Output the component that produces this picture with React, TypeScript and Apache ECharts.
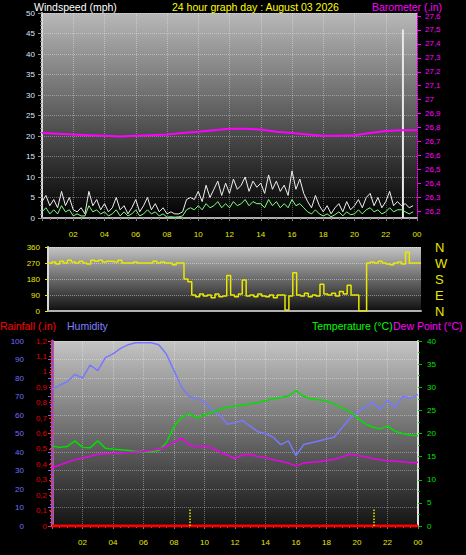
import React, { useEffect, useRef } from 'react';
import * as echarts from 'echarts';

// ---- data (hours 0..24) ----
const windGust = [
  4, 5.5, 3, 4.5, 2.5, 6.5, 3, 5, 2, 1.5, 2.5, 1, 6.5, 3, 4.5, 2,
  3.5, 1.5, 2.5, 5, 2, 3, 1, 2.5, 4.5, 1.5, 3, 5, 2, 3.5, 1.5, 2.5,
  1, 1.5, 1, 1, 1.5, 4.5, 5, 4.5, 6.5, 4, 8, 5, 7, 9, 5.5, 8.5,
  6, 9.5, 7, 8, 10, 6.5, 9, 7.5, 8.5, 6, 10.5, 7, 9, 6.5, 8, 5.5,
  11.5, 7, 9.5, 6, 4, 2.5, 5.5, 3, 1.5, 3, 1, 2.5, 3.5, 1.5, 4, 2,
  3, 4.5, 2.5, 5, 6, 3, 5, 2.5, 4, 6.5, 3, 4, 3, 3.5, 2.5, 3,
];
const windAvg = [
  1.5, 2.5, 1, 2, 1, 3, 1.5, 2, 0.5, 1, 0.5, 0.5, 3, 1.5, 2, 1,
  1.5, 0.5, 1, 2, 0.5, 1.5, 0.5, 1, 2, 0.5, 1, 2, 1, 1.5, 0.5, 1,
  0.2, 0.3, 0.2, 0.3, 0.5, 2, 2.5, 2, 3, 2, 3.5, 2.5, 3, 4, 2.5, 3.5,
  2.5, 4, 3, 3.5, 4.5, 3, 4, 3.5, 3.5, 2.5, 4.5, 3, 4, 2.5, 3.5, 2.5,
  4.5, 3, 3.5, 2.5, 1.5, 1, 2, 1, 0.5, 1, 0.3, 0.8, 1.5, 0.5, 1.5, 0.8,
  1, 2, 1, 2, 2.5, 1.5, 2, 1, 1.5, 2.5, 1.5, 2, 2, 1.5, 1, 1.5,
];
const gustSpikeHour = 23.1;
const gustSpikeMph = 46;
const barometer = [
  26.76, 26.755, 26.75, 26.745, 26.74, 26.735, 26.74, 26.745, 26.75, 26.76,
  26.77, 26.78, 26.79, 26.79, 26.785, 26.77, 26.76, 26.75, 26.74, 26.74,
  26.745, 26.76, 26.775, 26.78, 26.78,
];
const windDir = [
  270, 275, 265, 280, 270, 285, 275, 270, 280, 270, 265, 285, 280, 285, 275, 280,
  280, 275, 285, 270, 270, 270, 275, 270, 270, 270, 270, 280, 270, 275, 270, 270,
  260, 270, 270, 180, 165, 90, 80, 95, 85, 90, 75, 95, 80, 85, 200, 90,
  80, 95, 175, 85, 90, 80, 95, 85, 80, 90, 75, 90, 90, 5, 85, 215,
  90, 85, 100, 80, 90, 85, 150, 95, 90, 100, 85, 110, 95, 145, 90, 90,
  0, 0, 270, 275, 270, 280, 270, 265, 260, 270, 275, 265, 330, 270, 270, 270,
  270,
];
const humidity = [
  74, 76, 78, 82, 80, 87, 84, 91, 93, 96, 98, 99, 99, 99, 98, 93, 84,
  75, 70, 69, 67, 63, 60, 55, 56, 57, 54, 51, 50, 48, 44, 46, 38,
  44, 45, 46, 47, 48, 53, 58, 61, 64, 67, 63, 68, 64, 70, 69, 71,
];
const temperature = [
  17.3, 17.0, 17.2, 18.4, 17.0, 16.9, 18.4, 16.8, 16.6, 16.5, 16.3, 16.1, 16.1,
  16.0, 16.3, 18.0, 21.5, 23.5, 24.3, 23.4, 24.0, 24.6, 25.2, 25.7, 25.9,
  26.1, 26.4, 26.7, 27.1, 27.5, 27.8, 28.1, 29.3, 28.0, 27.5, 27.3, 27.0,
  26.4, 25.6, 24.8, 23.4, 22.2, 21.4, 21.0, 21.6, 20.5, 20.0, 19.6, 19.5,
];
const dewPoint = [
  12.6, 13.2, 13.8, 14.3, 14.7, 15.1, 15.5, 15.6, 15.7, 15.8, 15.9, 16.0, 16.1,
  16.3, 16.6, 17.2, 18.1, 19.0, 17.5, 17.2, 17.3, 16.8, 16.0, 15.3, 14.6,
  15.4, 15.5, 15.0, 14.8, 14.3, 14.0, 13.6, 13.0, 13.6, 13.8, 13.9, 14.2,
  14.4, 14.9, 15.5, 15.3, 15.0, 14.6, 14.3, 14.1, 14.0, 13.9, 13.7, 13.8,
];
const rainfall = [
  0, 0, 0, 0, 0, 0, 0, 0, 0, 0, 0, 0, 0, 0, 0, 0, 0, 0, 0, 0, 0, 0, 0, 0, 0,
];
const markerHours = [9.0, 21.1];
const baroTicks = [
  26.2, 26.3, 26.4, 26.5, 26.6, 26.7, 26.8, 26.9, 27.0, 27.1, 27.2, 27.3, 27.4, 27.5, 27.6,
];
const dirLabels: Record<number, string> = { 0: 'N', 90: 'E', 180: 'S', 270: 'W', 360: 'N' };

const FONT = '"Liberation Sans", Arial, sans-serif';
const hourFmt = (v: number) => (v === 0 ? '' : String(v % 24).padStart(2, '0'));
const comma = (v: number) => String(Number(v.toFixed(1))).replace('.', ',');

const grad = (top: string, bottom: string) => ({
  type: 'linear', x: 0, y: 0, x2: 0, y2: 1,
  colorStops: [{ offset: 0, color: top }, { offset: 1, color: bottom }],
});
const gridLine = { show: true, lineStyle: { color: 'rgba(255,255,255,0.35)', type: 'dotted', width: 1 } };

export default function App() {
  const ref = useRef<HTMLDivElement>(null);
  useEffect(() => {
    document.body.style.margin = '0';
    document.body.style.background = '#000';
    const chart = echarts.init(ref.current!, null, { renderer: 'svg' });
    const q = (arr: number[], step: number) => arr.map((v, i) => [i * step, v]);

    const xBase = (gridIndex: number, showLabels: boolean) => ({
      type: 'value', gridIndex, min: 0, max: 24, interval: 2,
      axisLine: { show: true, onZero: false, lineStyle: { color: '#b0b0b0', width: 2 } },
      axisTick: { show: showLabels, length: 3, lineStyle: { color: '#808080' } },
      minorTick: { show: showLabels, splitNumber: 4, length: 2, lineStyle: { color: '#707070' } },
      axisLabel: { show: showLabels, formatter: hourFmt, color: '#e8e800', fontSize: 8, fontFamily: FONT, margin: 12 },
      splitLine: showLabels ? gridLine : { show: false },
    });

    const titleStyle = (text: string, fill: string) => ({ text, fill, fontSize: 10.5, fontFamily: FONT });

    chart.setOption({
      animation: false,
      backgroundColor: '#000',
      grid: [
        { left: 42, top: 13, width: 375, height: 205, show: true, borderWidth: 0, backgroundColor: grad('#b8b8b8', '#000000') },
        { left: 48, top: 247, width: 373, height: 64, show: true, borderWidth: 0, backgroundColor: grad('#c4c4c4', '#101010') },
        { left: 52, top: 341, width: 366, height: 185, show: true, borderWidth: 0, backgroundColor: grad('#c4c4c4', '#141414') },
      ],
      xAxis: [xBase(0, true), { ...xBase(1, false), splitLine: { show: false } }, xBase(2, true)],
      yAxis: [
        {
          type: 'value', gridIndex: 0, min: 0, max: 50, interval: 5, position: 'left',
          axisLine: { show: true, lineStyle: { color: '#d8d8d8', width: 2 } },
          axisTick: { show: true, length: 4, lineStyle: { color: '#909090' } },
          minorTick: { show: true, splitNumber: 5, length: 2, lineStyle: { color: '#808080' } },
          axisLabel: { color: '#dce6ff', fontSize: 8, fontFamily: FONT, margin: 7 },
          splitLine: gridLine,
        },
        {
          type: 'value', gridIndex: 0, min: 26.15, max: 27.622, position: 'right',
          axisLine: { show: true, lineStyle: { color: '#ff00ff', width: 1, type: 'dotted' } },
          axisTick: { show: true, length: 4, customValues: baroTicks, lineStyle: { color: '#ff00ff' } },
          axisLabel: { color: '#ff00ff', fontSize: 8, fontFamily: FONT, margin: 8, customValues: baroTicks, formatter: comma },
          splitLine: { show: false },
        },
        {
          type: 'value', gridIndex: 1, min: 0, max: 360, interval: 90, position: 'left',
          axisLine: { show: true, lineStyle: { color: '#d8d8d8', width: 2 } },
          axisTick: { show: true, length: 3, lineStyle: { color: '#e8e800' } },
          axisLabel: { color: '#e8e800', fontSize: 8, fontFamily: FONT, margin: 8 },
          splitLine: { show: true, lineStyle: { color: 'rgba(255,255,255,0.4)', type: 'dotted' } },
        },
        {
          type: 'value', gridIndex: 1, min: 0, max: 360, interval: 90, position: 'right',
          axisLine: { show: false }, axisTick: { show: false }, splitLine: { show: false },
          axisLabel: { color: '#e8e800', fontSize: 13, fontFamily: FONT, margin: 14, formatter: (v: number) => dirLabels[v] ?? '' },
        },
        {
          type: 'value', gridIndex: 2, min: 0, max: 100, interval: 10, position: 'left', offset: 22,
          axisLine: { show: true, lineStyle: { color: '#6868ff', width: 3 } },
          axisTick: { show: true, length: 4, lineStyle: { color: '#6868ff' } },
          minorTick: { show: true, splitNumber: 5, length: 2, lineStyle: { color: '#6868ff' } },
          axisLabel: { color: '#6f6fff', fontSize: 8, fontFamily: FONT, margin: 6 },
          splitLine: gridLine,
        },
        {
          type: 'value', gridIndex: 2, min: 0, max: 1.2, interval: 0.1, position: 'left',
          axisLine: { show: true, lineStyle: { color: '#ff3030', width: 2, type: 'dotted' } },
          axisTick: { show: true, length: 3, lineStyle: { color: '#ff2020' } },
          axisLabel: { color: '#e00000', fontSize: 8, fontFamily: FONT, margin: 5, formatter: comma },
          splitLine: { show: false },
        },
        {
          type: 'value', gridIndex: 2, min: 0, max: 40, interval: 5, position: 'right',
          axisLine: { show: true, lineStyle: { color: '#e0e0e0', width: 2 } },
          axisTick: { show: true, length: 4, lineStyle: { color: '#00c000' } },
          minorTick: { show: true, splitNumber: 2, length: 2, lineStyle: { color: '#00c000' } },
          axisLabel: { color: '#00e000', fontSize: 8, fontFamily: FONT, margin: 9 },
          splitLine: { show: false },
        },
      ],
      series: [
        { type: 'line', xAxisIndex: 0, yAxisIndex: 1, data: q(barometer, 1), symbol: 'none', lineStyle: { color: '#ff00ff', width: 2 } },
        { type: 'line', xAxisIndex: 0, yAxisIndex: 0, data: q(windGust, 0.25), symbol: 'none', lineStyle: { color: '#f0f0f0', width: 1 } },
        { type: 'line', xAxisIndex: 0, yAxisIndex: 0, data: q(windAvg, 0.25), symbol: 'none', lineStyle: { color: '#80ff80', width: 1 } },
        { type: 'bar', xAxisIndex: 0, yAxisIndex: 0, data: [[gustSpikeHour, gustSpikeMph]], barWidth: 2, itemStyle: { color: '#e8e8e8' } },
        { type: 'line', xAxisIndex: 1, yAxisIndex: 2, data: q(windDir, 0.25), step: 'end', symbol: 'none', lineStyle: { color: '#e8e800', width: 1.5 } },
        { type: 'line', xAxisIndex: 2, yAxisIndex: 4, data: q(humidity, 0.5), symbol: 'none', lineStyle: { color: '#7878ff', width: 1.5 } },
        { type: 'line', xAxisIndex: 2, yAxisIndex: 6, data: q(temperature, 0.5), symbol: 'none', lineStyle: { color: '#00e000', width: 1.5 } },
        { type: 'line', xAxisIndex: 2, yAxisIndex: 6, data: q(dewPoint, 0.5), symbol: 'none', lineStyle: { color: '#ee00ee', width: 1.5 } },
        {
          type: 'line', xAxisIndex: 2, yAxisIndex: 5, data: q(rainfall, 1), symbol: 'none', lineStyle: { color: '#ff0000', width: 3 },
          markLine: {
            symbol: 'none', silent: true, label: { show: false },
            lineStyle: { color: '#e8e800', type: 'dotted', width: 1.5 },
            data: markerHours.map((h) => [{ coord: [h, 0] }, { coord: [h, 0.11] }]),
          },
        },
      ],
      graphic: [
        { type: 'text', left: 34, top: 1, style: titleStyle('Windspeed (mph)', '#ffffff') },
        { type: 'text', left: 172, top: 1, style: titleStyle('24 hour graph day : August 03 2026', '#ffff00') },
        { type: 'text', left: 372, top: 1, style: titleStyle('Barometer (.in)', '#ff00ff') },
        { type: 'text', left: 0, top: 320, style: titleStyle('Rainfall (.in)', '#ff0000') },
        { type: 'text', left: 67, top: 320, style: titleStyle('Humidity', '#8080ff') },
        { type: 'text', left: 312, top: 320, style: titleStyle('Temperature (°C)', '#00ff00') },
        { type: 'text', left: 393, top: 320, style: titleStyle('Dew Point (°C)', '#ff00ff') },
      ],
    });
    return () => chart.dispose();
  }, []);
  return <div ref={ref} style={{ position: 'absolute', left: 0, top: 0, width: 466, height: 555, background: '#000' }} />;
}
